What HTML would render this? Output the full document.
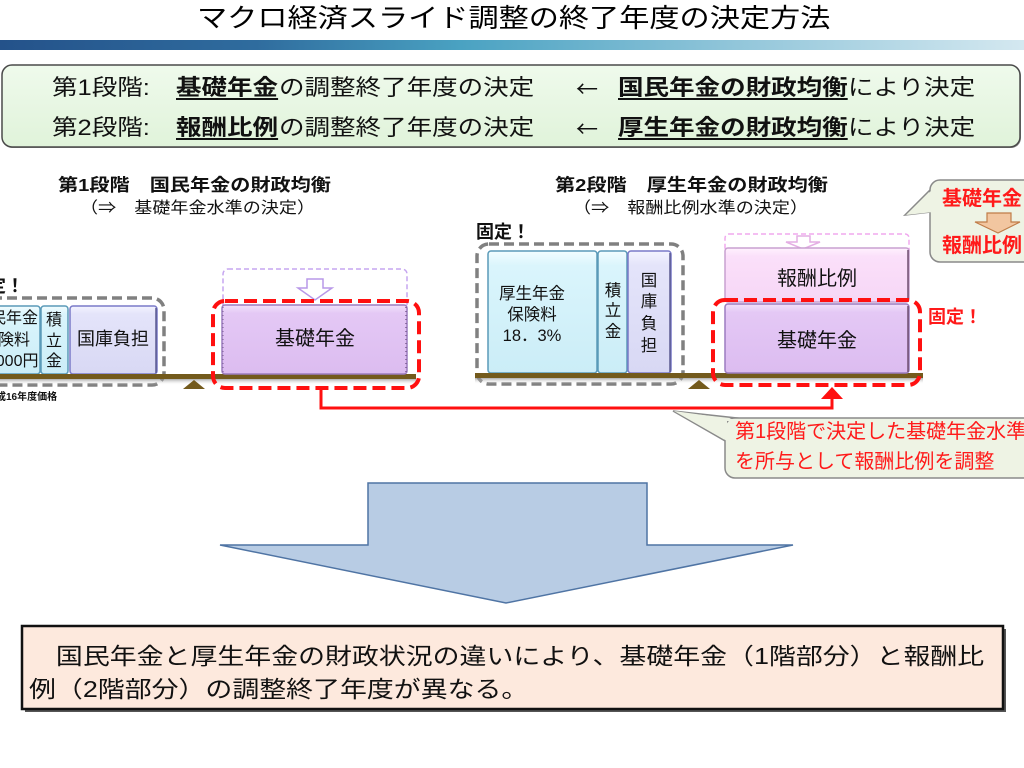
<!DOCTYPE html>
<html><head><meta charset="utf-8">
<style>
body{margin:0;width:1024px;height:768px;position:relative;overflow:hidden;background:#fff;font-family:"Liberation Sans","Noto Sans CJK JP",sans-serif;}
.t{position:absolute;white-space:nowrap;line-height:1;transform-origin:0 50%;color:#111;}
.c{position:absolute;white-space:nowrap;line-height:1;color:#111;transform:translateX(-50%);}
.u{text-decoration:underline;text-decoration-thickness:2px;text-underline-offset:3px;font-weight:bold;}
.b{font-weight:bold;}
.r{color:#ff1a1a;}
.arr{font-family:"Noto Sans CJK JP",sans-serif;}
svg{position:absolute;left:0;top:0;}
</style></head><body>
<svg width="1024" height="768" viewBox="0 0 1024 768">
<defs>
<linearGradient id="gbar" x1="0" x2="1" y1="0" y2="0">
<stop offset="0" stop-color="#24528a"/><stop offset="0.25" stop-color="#2f6c9e"/><stop offset="0.45" stop-color="#4aa2c2"/><stop offset="0.72" stop-color="#92c6da"/><stop offset="1" stop-color="#d4e8f0"/>
</linearGradient>
<linearGradient id="ggreen" x1="0" x2="0" y1="0" y2="1"><stop offset="0" stop-color="#effaec"/><stop offset="1" stop-color="#e0f3da"/></linearGradient>
<linearGradient id="gcyan" x1="0" x2="0" y1="0" y2="1"><stop offset="0" stop-color="#f2fdff"/><stop offset="0.12" stop-color="#daf5fc"/><stop offset="1" stop-color="#cbedf7"/></linearGradient>
<linearGradient id="glav" x1="0" x2="0" y1="0" y2="1"><stop offset="0" stop-color="#f4f4ff"/><stop offset="0.12" stop-color="#e4e4fa"/><stop offset="1" stop-color="#d8d8f4"/></linearGradient>
<linearGradient id="gpur" x1="0" x2="0" y1="0" y2="1"><stop offset="0" stop-color="#f2e2fb"/><stop offset="0.12" stop-color="#e4c8f5"/><stop offset="1" stop-color="#dcbcf0"/></linearGradient>
<linearGradient id="gpink" x1="0" x2="0" y1="0" y2="1"><stop offset="0" stop-color="#fff2fe"/><stop offset="0.15" stop-color="#fbe0fa"/><stop offset="1" stop-color="#f6d6f6"/></linearGradient>
<linearGradient id="gsh" x1="0" x2="0" y1="0" y2="1"><stop offset="0" stop-color="#8a8a8a" stop-opacity="0.7"/><stop offset="1" stop-color="#ffffff" stop-opacity="0"/></linearGradient>
</defs>

<rect x="0" y="40" width="1024" height="10" fill="url(#gbar)"/>

<rect x="3" y="66" width="1018" height="82" rx="10" fill="#888"/>
<rect x="2" y="65" width="1018" height="82" rx="10" fill="url(#ggreen)" stroke="#4a4a4a" stroke-width="1.5"/>

<rect x="-20" y="298" width="184" height="87" rx="12" fill="none" stroke="#808080" stroke-width="3.5" stroke-dasharray="10 5"/>
<rect x="-12" y="306" width="52" height="68" rx="3" fill="url(#gcyan)" stroke="#5a9ab8" stroke-width="1.5"/>
<rect x="41" y="306" width="27" height="68" rx="3" fill="url(#gcyan)" stroke="#5a9ab8" stroke-width="1.5"/>
<rect x="70" y="306" width="87" height="68" rx="3" fill="url(#glav)" stroke="#7a7ac8" stroke-width="1.5"/>
<line x1="156" y1="308" x2="156" y2="373" stroke="#5a5a90" stroke-width="1.5"/>
<rect x="0" y="374" width="416" height="5" fill="#735a1c"/>
<rect x="0" y="379" width="416" height="6" fill="url(#gsh)"/>
<polygon points="183,389 194,380 205,389" fill="#735a1c"/>

<rect x="223" y="269" width="184" height="45" rx="5" fill="#fff" stroke="#c6a6f0" stroke-width="1.5" stroke-dasharray="5 3"/>
<polygon points="307,279 323,279 323,288 332,288 315,300 298,288 307,288" fill="#fff" stroke="#b898e8" stroke-width="1.5"/>
<rect x="222" y="305" width="185" height="69" rx="3" fill="url(#gpur)" stroke="#9c7cc0" stroke-width="1.5"/>
<line x1="406" y1="307" x2="406" y2="373" stroke="#7a5c90" stroke-width="1.5" stroke-dasharray="1 3"/>
<line x1="223" y1="307" x2="223" y2="373" stroke="#7a5c90" stroke-width="1" stroke-dasharray="1 3"/>
<rect x="213" y="301" width="206" height="87" rx="12" fill="none" stroke="#ff1010" stroke-width="4" stroke-dasharray="13 6"/>

<polyline points="321,388 321,408 832,408 832,397" fill="none" stroke="#ff1010" stroke-width="3"/>
<polygon points="821,399 843,399 832,387" fill="#ff1010"/>

<rect x="477" y="244" width="206" height="140" rx="12" fill="none" stroke="#808080" stroke-width="3.5" stroke-dasharray="10 5"/>
<rect x="488" y="251" width="109" height="122" rx="3" fill="url(#gcyan)" stroke="#5a9ab8" stroke-width="1.5"/>
<rect x="598" y="251" width="29" height="122" rx="3" fill="url(#gcyan)" stroke="#5a9ab8" stroke-width="1.5"/>
<rect x="628" y="251" width="43" height="122" rx="3" fill="url(#glav)" stroke="#7a7ac8" stroke-width="1.5"/>
<line x1="670" y1="253" x2="670" y2="372" stroke="#5a5a90" stroke-width="1.5"/>
<rect x="475" y="373" width="448" height="5" fill="#735a1c"/>
<rect x="475" y="378" width="448" height="6" fill="url(#gsh)"/>
<polygon points="688,389 699,380 710,389" fill="#735a1c"/>

<rect x="725" y="234" width="184" height="20" rx="4" fill="#fff" stroke="#f0a8ee" stroke-width="1.5" stroke-dasharray="5 3"/>
<polygon points="797,236 810,236 810,242 820,242 803,249 786,242 797,242" fill="#fff" stroke="#e4aee4" stroke-width="1.5"/>
<rect x="725" y="248" width="184" height="54" rx="3" fill="url(#gpink)" stroke="#c8a0d0" stroke-width="1.5"/>
<line x1="908" y1="250" x2="908" y2="301" stroke="#705070" stroke-width="1.5"/>
<rect x="725" y="304" width="184" height="69" rx="3" fill="url(#gpur)" stroke="#9c7cc0" stroke-width="1.5"/>
<line x1="908" y1="306" x2="908" y2="372" stroke="#705070" stroke-width="1.5"/>
<rect x="713" y="300" width="207" height="85" rx="12" fill="none" stroke="#ff1010" stroke-width="4" stroke-dasharray="13 6"/>

<polygon points="905,215 931,212 932,188" fill="#eef3e4" stroke="#8a8a8a" stroke-width="1.5"/>
<rect x="930" y="180" width="120" height="82" rx="10" fill="#eef3e4" stroke="#8a8a8a" stroke-width="1.5"/>
<polygon points="906,215 933,212 933,189" fill="#eef3e4"/>
<polygon points="987,213 1011,213 1011,222 1020,222 998,233 975,222 987,222" fill="#f2c6a0" stroke="#c07c48" stroke-width="1.2"/>

<polygon points="673,411 727,442 746,419" fill="#eef3e4" stroke="#8a8a8a" stroke-width="1.5"/>
<rect x="725" y="418" width="320" height="60" rx="10" fill="#eef3e4" stroke="#8a8a8a" stroke-width="1.5"/>
<polygon points="674,411 727,441 727,421 746,421" fill="#eef3e4"/>

<polygon points="368,483 647,483 647,545 793,545 506,603 220,545 368,545" fill="#b8cce4" stroke="#4f74a4" stroke-width="1.5"/>

<rect x="25" y="629" width="981" height="83" fill="#555"/>
<rect x="22" y="626" width="981" height="83" fill="#fde9dd" stroke="#111" stroke-width="2.5"/>
</svg>

<div class="t" style="left:197px;top:5px;font-size:26px;transform:scaleX(1.16);color:#000;">マクロ経済スライド調整の終了年度の決定方法</div>

<div class="t" style="left:52px;top:77px;font-size:22px;transform:scaleX(1.16);">第1段階:</div>
<div class="t u" style="left:176px;top:77px;font-size:22px;transform:scaleX(1.16);">基礎年金</div>
<div class="t" style="left:279px;top:77px;font-size:22px;transform:scaleX(1.16);">の調整終了年度の決定</div>
<div class="t arr" style="left:576px;top:77px;font-size:22px;">←</div>
<div class="t u" style="left:618px;top:77px;font-size:22px;transform:scaleX(1.16);">国民年金の財政均衡</div>
<div class="t" style="left:848px;top:77px;font-size:22px;transform:scaleX(1.16);">により決定</div>

<div class="t" style="left:52px;top:117px;font-size:22px;transform:scaleX(1.16);">第2段階:</div>
<div class="t u" style="left:176px;top:117px;font-size:22px;transform:scaleX(1.16);">報酬比例</div>
<div class="t" style="left:279px;top:117px;font-size:22px;transform:scaleX(1.16);">の調整終了年度の決定</div>
<div class="t arr" style="left:576px;top:117px;font-size:22px;">←</div>
<div class="t u" style="left:618px;top:117px;font-size:22px;transform:scaleX(1.16);">厚生年金の財政均衡</div>
<div class="t" style="left:848px;top:117px;font-size:22px;transform:scaleX(1.16);">により決定</div>

<div class="t b" style="left:58px;top:177px;font-size:17.5px;transform:scaleX(1.15);">第1段階　国民年金の財政均衡</div>
<div class="t" style="left:80px;top:201px;font-size:16px;transform:scaleX(1.13);">（⇒　基礎年金水準の決定）</div>
<div class="t b" style="left:555px;top:177px;font-size:17.5px;transform:scaleX(1.15);">第2段階　厚生年金の財政均衡</div>
<div class="t" style="left:573px;top:201px;font-size:16px;transform:scaleX(1.13);">（⇒　報酬比例水準の決定）</div>

<div class="t b" style="left:-30px;top:277px;font-size:18px;">固定！</div>
<div class="c" style="left:6px;top:311px;font-size:16px;">国民年金</div>
<div class="c" style="left:6px;top:333px;font-size:16px;">保険料</div>
<div class="c" style="left:6px;top:354px;font-size:16px;">14,000円</div>
<div class="c" style="left:54px;top:313px;font-size:16px;">積</div>
<div class="c" style="left:54px;top:334px;font-size:16px;">立</div>
<div class="c" style="left:54px;top:354px;font-size:16px;">金</div>
<div class="c" style="left:113px;top:330px;font-size:18px;">国庫負担</div>
<div class="t b" style="left:-14px;top:393px;font-size:10px;">平成16年度価格</div>
<div class="c" style="left:315px;top:329px;font-size:20px;">基礎年金</div>

<div class="t b" style="left:476px;top:223px;font-size:18px;">固定！</div>
<div class="c" style="left:532px;top:286px;font-size:16.5px;">厚生年金</div>
<div class="c" style="left:532px;top:307px;font-size:16.5px;">保険料</div>
<div class="c" style="left:532px;top:328px;font-size:16.5px;">18．3%</div>
<div class="c" style="left:613px;top:283px;font-size:16.5px;">積</div>
<div class="c" style="left:613px;top:303px;font-size:16.5px;">立</div>
<div class="c" style="left:613px;top:324px;font-size:16.5px;">金</div>
<div class="c" style="left:649px;top:273px;font-size:16.5px;">国</div>
<div class="c" style="left:649px;top:294px;font-size:16.5px;">庫</div>
<div class="c" style="left:649px;top:316px;font-size:16.5px;">負</div>
<div class="c" style="left:649px;top:338px;font-size:16.5px;">担</div>
<div class="c" style="left:817px;top:269px;font-size:20px;">報酬比例</div>
<div class="c" style="left:817px;top:331px;font-size:20px;">基礎年金</div>
<div class="t b r" style="left:928px;top:308px;font-size:18px;">固定！</div>

<div class="t b r" style="left:942px;top:189px;font-size:20px;">基礎年金</div>
<div class="t b r" style="left:942px;top:236px;font-size:20px;">報酬比例</div>
<div class="t r" style="left:735px;top:422px;font-size:20px;">第1段階で決定した基礎年金水準</div>
<div class="t r" style="left:735px;top:452px;font-size:20px;">を所与として報酬比例を調整</div>

<div class="t" style="left:29px;top:645px;font-size:23px;transform:scaleX(1.17);">　国民年金と厚生年金の財政状況の違いにより、基礎年金（1階部分）と報酬比</div>
<div class="t" style="left:29px;top:678px;font-size:23px;transform:scaleX(1.17);">例（2階部分）の調整終了年度が異なる。</div>
</body></html>
